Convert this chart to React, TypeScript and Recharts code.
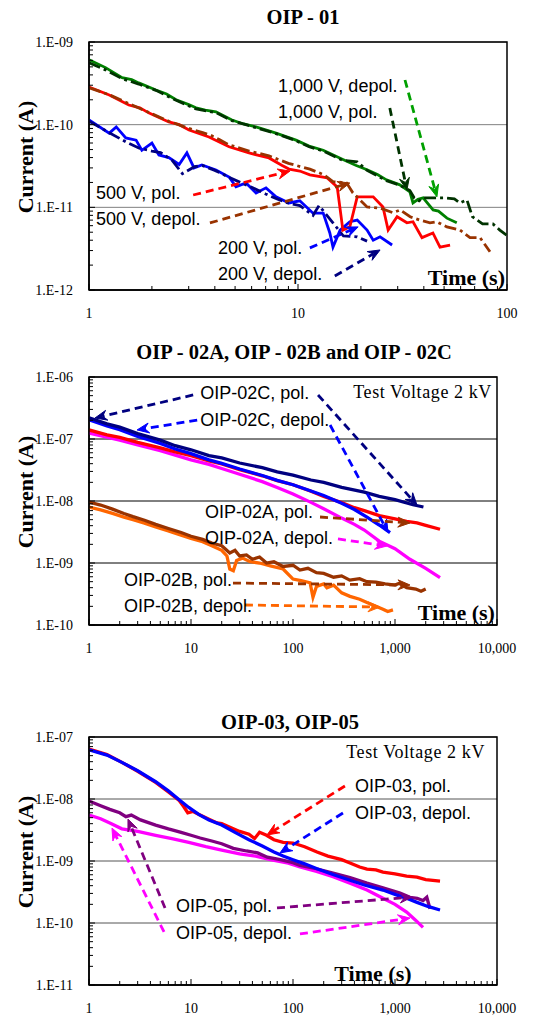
import {
    CartesianGrid,
    Line,
    LineChart,
    ReferenceArea,
    ReferenceDot,
    ReferenceLine,
    XAxis,
    YAxis
} from 'recharts'

const SERIF = '"Liberation Serif", "Times New Roman", serif'
const SANS = '"Liberation Sans", Arial, sans-serif'

const GREEN = '#008000'
const DARK_GREEN = '#003300'
const RED = '#FF0000'
const BROWN = '#993300'
const BLUE = '#0000FF'
const NAVY = '#000080'
const MAGENTA = '#FF00FF'
const ORANGE = '#FF6600'
const PURPLE = '#800080'
const DASH_DOT = '12 4 3 4'

// ---------- OIP - 01  (time s, current A) ----------
const p1XDecades = [1, 10, 100]
const p1YDecades = [1e-12, 1e-11, 1e-10, 1e-9]

const oip01V1000Depol = [
    [1, 6.1e-10], [1.2, 4.9e-10], [1.44, 3.7e-10], [1.6, 3.5e-10], [1.73, 3.2e-10], [2.09, 2.63e-10],
    [2.35, 2.35e-10], [2.61, 2.0e-10], [3.0, 1.75e-10], [3.25, 1.6e-10], [3.6, 1.5e-10], [4.05, 1.43e-10],
    [4.83, 1.14e-10], [5.5, 1.02e-10], [6.29, 9.4e-11], [7.85, 7.9e-11], [9.78, 6.5e-11], [11.3, 5.5e-11],
    [13.2, 4.9e-11], [16.4, 3.8e-11], [19, 3.2e-11], [21.4, 2.85e-11], [24, 2.5e-11], [26.5, 2.15e-11],
    [30.7, 1.87e-11], [34.3, 1.54e-11], [35.5, 1.13e-11], [37.5, 1.25e-11], [39.7, 1.3e-11], [44.3, 9.3e-12],
    [47, 9.0e-12], [51.6, 7.4e-12], [57.5, 6.5e-12]
]
const oip01V1000Pol = [
    [1, 5.6e-10], [1.2, 4.6e-10], [1.44, 3.6e-10], [1.73, 3.1e-10], [2.09, 2.6e-10], [2.61, 1.97e-10],
    [3.25, 1.55e-10], [4.05, 1.4e-10], [4.83, 1.12e-10], [6.29, 9.2e-11], [7.85, 7.8e-11], [9.78, 6.4e-11],
    [11.3, 5.4e-11], [13.2, 4.8e-11], [16.4, 3.7e-11], [19.2, 3.55e-11], [21.4, 2.8e-11], [26.5, 2.1e-11],
    [30.7, 1.85e-11], [34.3, 1.6e-11], [36, 1.3e-11], [38, 1.2e-11], [39.7, 1.3e-11], [44, 1.3e-11],
    [51, 1.3e-11], [56, 1.27e-11], [59.6, 1.13e-11], [64.3, 1.23e-11], [68.3, 7.7e-12], [76.4, 6.3e-12],
    [85.6, 6.3e-12], [92.4, 5.3e-12], [99.5, 4.6e-12]
]
const oip01V500Pol = [
    [1, 2.86e-10], [1.25, 2.29e-10], [1.55, 1.73e-10], [1.75, 1.6e-10], [1.94, 1.38e-10], [2.41, 1.08e-10],
    [2.7, 1.0e-10], [3.01, 8.6e-11], [3.75, 7.1e-11], [4.68, 5.4e-11], [5.83, 4.55e-11], [7.26, 3.96e-11],
    [8.4, 3.2e-11], [9.06, 2.9e-11], [10.2, 2.75e-11], [11.4, 2.47e-11], [13.8, 2.27e-11], [15.4, 1.77e-11],
    [16.4, 5.3e-12], [17.7, 5.8e-12], [19.2, 1.34e-11], [22.9, 1.34e-11], [25.5, 1.01e-11], [27.0, 5.3e-12],
    [29.8, 7.7e-12], [33.2, 6.5e-12], [35.5, 6.7e-12], [39.2, 4.3e-12], [44.2, 4.9e-12], [47.8, 3.3e-12],
    [53.4, 3.5e-12]
]
const oip01V500Depol = [
    [1, 2.8e-10], [1.25, 2.3e-10], [1.55, 1.8e-10], [1.94, 1.4e-10], [2.41, 1.1e-10], [3.01, 9.0e-11],
    [3.5, 8.0e-11], [3.8, 7.5e-11], [4.2, 6.6e-11], [4.68, 5.7e-11], [5.83, 4.8e-11], [7.26, 4.2e-11],
    [9.0, 3.4e-11], [11.4, 2.9e-11], [13.2, 2.5e-11], [14.7, 2.05e-11], [17.1, 1.97e-11], [18.3, 1.5e-11],
    [21.4, 1.01e-11], [24.7, 9.8e-12], [28.5, 8.6e-12], [30.8, 9.3e-12], [34.4, 7.7e-12], [38.3, 7.0e-12],
    [42.8, 6.5e-12], [46, 6.7e-12], [51.6, 5.8e-12], [59.6, 5.3e-12], [66.5, 4.3e-12], [74.3, 4.3e-12],
    [82.9, 2.9e-12]
]
const oip01V200Pol = [
    [1, 1.14e-10], [1.25, 7.9e-11], [1.35, 9.4e-11], [1.5, 6.9e-11], [1.68, 6.5e-11], [1.79, 4.9e-11],
    [2.0, 6.0e-11], [2.16, 4.3e-11], [2.41, 4.0e-11], [2.7, 3.3e-11], [2.94, 4.55e-11], [3.18, 3.0e-11],
    [3.47, 3.26e-11], [4.05, 2.83e-11], [4.68, 2.33e-11], [5.05, 1.77e-11], [5.64, 1.97e-11], [6.3, 1.49e-11],
    [7.03, 1.72e-11], [7.85, 1.34e-11], [9.06, 1.13e-11], [10.2, 1.2e-11], [11.8, 8.5e-12], [13.2, 8.5e-12],
    [14.2, 4.9e-12], [14.7, 3.3e-12], [15.9, 5.3e-12], [17.7, 6.7e-12], [19.2, 7.0e-12], [21.4, 5.3e-12],
    [22.9, 4.0e-12], [24.7, 4.4e-12], [28.2, 3.5e-12]
]
const oip01V200Depol = [
    [1, 1.1e-10], [1.25, 8.0e-11], [1.5, 6.2e-11], [1.74, 5.2e-11], [2.0, 4.8e-11], [2.2, 4.6e-11],
    [2.5, 3.7e-11], [2.8, 2.55e-11], [3.2, 3.1e-11], [3.5, 3.2e-11], [4.0, 2.8e-11], [4.7, 2.3e-11],
    [5.3, 2.0e-11], [6.0, 1.75e-11], [7.0, 1.45e-11], [8.0, 1.25e-11], [9.0, 1.12e-11], [10.2, 1.05e-11],
    [11.8, 8.0e-12], [12.6, 1.05e-11], [14.7, 6.5e-12], [16.5, 4.5e-12], [19.2, 4.4e-12], [21.4, 3.9e-12]
]

// ---------- OIP - 02A / 02B / 02C ----------
const p23XDecades = [1, 10, 100, 1000, 10000]
const p2YDecades = [1e-10, 1e-9, 1e-8, 1e-7, 1e-6]

const oip02CPol = [
    [1, 2.2e-7], [1.5, 1.75e-7], [2, 1.55e-7], [3, 1.22e-7], [5, 9.6e-8], [7, 7.8e-8], [10, 6.7e-8],
    [15, 5.4e-8], [20, 4.95e-8], [30, 4.1e-8], [50, 3.45e-8], [70, 2.95e-8], [100, 2.62e-8], [150, 2.18e-8],
    [200, 1.99e-8], [300, 1.66e-8], [500, 1.39e-8], [700, 1.19e-8], [1000, 1.05e-8], [1500, 8.7e-9],
    [1900, 8.0e-9]
]
const oip02CDepol = [
    [1, 2.05e-7], [1.5, 1.62e-7], [2, 1.41e-7], [3, 1.1e-7], [5, 8.5e-8], [7, 6.9e-8], [10, 5.8e-8],
    [15, 4.6e-8], [20, 4.05e-8], [30, 3.28e-8], [50, 2.58e-8], [70, 2.15e-8], [100, 1.83e-8], [150, 1.45e-8],
    [200, 1.23e-8], [300, 9.2e-9], [400, 7.3e-9], [531, 5.5e-9], [700, 4.1e-9], [894, 3.1e-9]
]
const oip02APol = [
    [1, 1.4e-7], [1.5, 1.17e-7], [2, 1.06e-7], [3, 8.8e-8], [5, 7.2e-8], [7, 6.2e-8], [10, 5.4e-8],
    [15, 4.45e-8], [20, 3.95e-8], [30, 3.2e-8], [50, 2.55e-8], [70, 2.13e-8], [100, 1.83e-8], [150, 1.44e-8],
    [200, 1.18e-8], [300, 9.4e-9], [400, 7.8e-9], [500, 7.0e-9], [700, 5.8e-9], [1000, 5.15e-9],
    [1300, 4.7e-9], [1643, 4.45e-9], [2000, 4.05e-9], [2763, 3.5e-9]
]
const oip02ADepol = [
    [1, 1.25e-7], [2, 9.6e-8], [3, 8.0e-8], [5, 6.5e-8], [7, 5.5e-8], [10, 4.6e-8], [15, 3.9e-8],
    [20, 3.35e-8], [30, 2.7e-8], [50, 2.05e-8], [70, 1.65e-8], [100, 1.3e-8], [150, 9.5e-9], [200, 7.5e-9],
    [300, 5.3e-9], [400, 4.2e-9], [500, 3.4e-9], [700, 2.25e-9], [1000, 1.7e-9], [1400, 1.15e-9],
    [2000, 8.2e-10], [2763, 5.8e-10]
]
const oip02BPol = [
    [1, 9.6e-9], [1.3, 8.6e-9], [1.7, 7.4e-9], [2.2, 6.3e-9], [2.7, 5.6e-9], [3.5, 4.9e-9], [4.5, 4.2e-9],
    [6, 3.6e-9], [8, 3.1e-9], [10, 2.7e-9], [13, 2.4e-9], [16, 2.1e-9], [20, 1.9e-9], [24, 1.45e-9],
    [27, 1.6e-9], [30, 1.3e-9], [35, 1.35e-9], [40, 1.15e-9], [47, 1.25e-9], [55, 1.0e-9], [65, 1.05e-9],
    [80, 8.8e-10], [100, 9.2e-10], [117, 7.7e-10], [140, 8.2e-10], [170, 7.0e-10], [200, 6.8e-10],
    [250, 5.9e-10], [300, 6.2e-10], [360, 5.3e-10], [450, 5.6e-10], [530, 5.0e-10], [650, 4.9e-10],
    [800, 4.6e-10], [1000, 4.4e-10], [1100, 4.7e-10], [1300, 4.0e-10], [1600, 3.8e-10], [1800, 3.5e-10],
    [2000, 3.8e-10]
]
const oip02BDepol = [
    [1, 8.0e-9], [1.3, 7.2e-9], [1.7, 6.3e-9], [2.2, 5.5e-9], [2.7, 5.0e-9], [3.5, 4.4e-9], [4.5, 3.8e-9],
    [6, 3.3e-9], [8, 2.8e-9], [10, 2.5e-9], [13, 2.2e-9], [16, 1.9e-9], [20, 1.6e-9], [22.5, 1.3e-9],
    [24, 8.0e-10], [26, 7.5e-10], [28, 1.1e-9], [32, 1.2e-9], [38, 1.05e-9], [47, 1.0e-9], [60, 9.0e-10],
    [80, 8.0e-10], [100, 5.5e-10], [120, 5.2e-10], [147, 4.8e-10], [157, 2.8e-10], [170, 4.2e-10],
    [200, 4.6e-10], [215, 4.0e-10], [250, 4.4e-10], [300, 3.3e-10], [362, 2.9e-10], [450, 2.6e-10],
    [531, 2.3e-10], [650, 2.0e-10], [762, 1.8e-10], [850, 1.65e-10], [955, 1.75e-10]
]

// ---------- OIP-03, OIP-05 ----------
const p3YDecades = [1e-11, 1e-10, 1e-9, 1e-8, 1e-7]

const oip03Pol = [
    [1, 6.4e-8], [1.5, 5.2e-8], [2.1, 3.9e-8], [3, 2.8e-8], [4.5, 1.85e-8], [6, 1.3e-8], [7.6, 9.6e-9],
    [8.5, 7.5e-9], [9.3, 6.0e-9], [10.5, 6.3e-9], [12, 5.6e-9], [15, 4.7e-9], [18, 4.1e-9], [20, 4.0e-9],
    [25, 3.4e-9], [30, 3.0e-9], [37, 2.7e-9], [42, 2.3e-9], [47, 2.9e-9], [55, 2.6e-9], [65, 2.2e-9],
    [80, 2.0e-9], [100, 1.95e-9], [130, 1.7e-9], [172, 1.4e-9], [220, 1.2e-9], [300, 1.05e-9], [362, 9.3e-10],
    [450, 8.0e-10], [531, 7.4e-10], [650, 7.2e-10], [762, 6.6e-10], [1000, 6.2e-10], [1300, 5.7e-10],
    [1643, 5.5e-10], [2000, 5.0e-10], [2763, 4.75e-10]
]
const oip03Depol = [
    [1, 6.2e-8], [1.5, 5.1e-8], [2.1, 3.9e-8], [3, 2.85e-8], [4.5, 1.9e-8], [6, 1.35e-8], [7.6, 9.8e-9],
    [9.5, 7.3e-9], [12, 5.6e-9], [15, 4.6e-9], [20, 3.8e-9], [27, 2.9e-9], [37, 2.2e-9], [50, 1.75e-9],
    [65, 1.4e-9], [80, 1.2e-9], [100, 1.05e-9], [130, 9.0e-10], [172, 7.5e-10], [250, 6.0e-10],
    [362, 4.9e-10], [500, 4.1e-10], [762, 3.4e-10], [1000, 2.9e-10], [1300, 2.5e-10], [1643, 2.15e-10],
    [2100, 1.85e-10], [2763, 1.62e-10]
]
const oip05Pol = [
    [1, 9.3e-9], [1.3, 7.8e-9], [1.6, 6.8e-9], [2.0, 6.0e-9], [2.3, 5.2e-9], [2.6, 5.5e-9], [3.2, 4.6e-9],
    [4.5, 3.8e-9], [6, 3.3e-9], [8, 2.9e-9], [10, 2.6e-9], [12.3, 2.35e-9], [16, 2.1e-9], [20, 1.9e-9],
    [26, 1.6e-9], [35, 1.45e-9], [45, 1.35e-9], [56, 1.15e-9], [75, 1.05e-9], [100, 9.4e-10], [117, 8.5e-10],
    [170, 7.5e-10], [247, 6.4e-10], [362, 5.4e-10], [531, 4.4e-10], [762, 3.7e-10], [1120, 3.05e-10],
    [1400, 2.6e-10], [1650, 2.5e-10], [1882, 2.3e-10], [2050, 2.6e-10], [2203, 1.7e-10]
]
const oip05Depol = [
    [1, 5.5e-9], [1.3, 4.8e-9], [1.6, 4.1e-9], [2.1, 3.3e-9], [3, 3.0e-9], [4.5, 2.6e-9], [6.5, 2.3e-9],
    [9.5, 2.0e-9], [14, 1.7e-9], [20, 1.5e-9], [30, 1.3e-9], [43, 1.2e-9], [60, 1.05e-9], [90, 9.2e-10],
    [117, 8.0e-10], [170, 6.8e-10], [247, 5.6e-10], [362, 4.4e-10], [531, 3.4e-10], [762, 2.5e-10],
    [1000, 2.0e-10], [1300, 1.5e-10], [1600, 1.1e-10], [1882, 8.5e-11]
]

type Series = { key: string; rows: number[][]; color: string; dash?: string }
type Arrow = { from: number[]; to: number[]; color: string }
type Note = { t: number; i: number; text: string; anchor?: 'start' | 'middle' | 'end'; kind?: 'sans' | 'serif' | 'axis' }

type PanelConfig = {
    top: number
    height: number
    margin: { top: number; right: number; bottom: number; left: number }
    xDecades: number[]
    yDecades: number[]
    gridColor: string
    lineWidth: number
    title: string
    titleX: number
    titleY: number
    yLabelY: number
    series: Series[]
    arrows: Arrow[]
    notes: Note[]
}

const panels: PanelConfig[] = [
    {
        top: 0,
        height: 330,
        margin: { top: 42, right: 31, bottom: 10, left: 29 },
        xDecades: p1XDecades,
        yDecades: p1YDecades,
        gridColor: '#808080',
        lineWidth: 2.8,
        title: 'OIP - 01',
        titleX: 303,
        titleY: 17,
        yLabelY: 157,
        series: [
            { key: 'v200pol', rows: oip01V200Pol, color: BLUE },
            { key: 'v200depol', rows: oip01V200Depol, color: NAVY, dash: DASH_DOT },
            { key: 'v500pol', rows: oip01V500Pol, color: RED },
            { key: 'v500depol', rows: oip01V500Depol, color: BROWN, dash: DASH_DOT },
            { key: 'v1000depol', rows: oip01V1000Depol, color: GREEN },
            { key: 'v1000pol', rows: oip01V1000Pol, color: DARK_GREEN, dash: DASH_DOT }
        ],
        arrows: [
            { from: [32.5, 3.47e-10], to: [46.2, 1.34e-11], color: '#00A000' },
            { from: [27.5, 1.59e-10], to: [33.2, 1.62e-11], color: DARK_GREEN },
            { from: [3.15, 1.41e-11], to: [9.16, 2.75e-11], color: RED },
            { from: [3.79, 6.47e-12], to: [17.7, 1.97e-11], color: BROWN },
            { from: [11.4, 3.23e-12], to: [19.4, 5.8e-12], color: BLUE },
            { from: [15.0, 1.48e-12], to: [24.7, 3.05e-12], color: NAVY }
        ],
        notes: [
            { t: 8.02, i: 2.94e-10, text: '1,000 V, depol.' },
            { t: 8.02, i: 1.43e-10, text: '1,000 V, pol.' },
            { t: 1.08, i: 1.49e-11, text: '500 V, pol.' },
            { t: 1.08, i: 7.24e-12, text: '500 V, depol.' },
            { t: 4.14, i: 3.23e-12, text: '200 V, pol.' },
            { t: 4.14, i: 1.57e-12, text: '200 V, depol.' },
            { t: 97.8, i: 1.44e-12, text: 'Time (s)', anchor: 'end', kind: 'axis' }
        ]
    },
    {
        top: 330,
        height: 340,
        margin: { top: 47, right: 41, bottom: 15, left: 29 },
        xDecades: p23XDecades,
        yDecades: p2YDecades,
        gridColor: '#000000',
        lineWidth: 3.3,
        title: 'OIP - 02A, OIP - 02B and OIP - 02C',
        titleX: 294,
        titleY: 352,
        yLabelY: 492,
        series: [
            { key: 'bdepol', rows: oip02BDepol, color: ORANGE },
            { key: 'bpol', rows: oip02BPol, color: BROWN },
            { key: 'adepol', rows: oip02ADepol, color: MAGENTA },
            { key: 'apol', rows: oip02APol, color: RED },
            { key: 'cdepol', rows: oip02CDepol, color: BLUE },
            { key: 'cpol', rows: oip02CPol, color: NAVY }
        ],
        arrows: [
            { from: [10.5, 5.13e-7], to: [1.145, 2.18e-7], color: NAVY },
            { from: [176, 5.13e-7], to: [1643, 8.61e-9], color: NAVY },
            { from: [11.5, 2.02e-7], to: [2.96, 1.4e-7], color: BLUE },
            { from: [231, 1.68e-7], to: [853, 3.16e-9], color: BLUE },
            { from: [184, 5.52e-9], to: [1403, 4.42e-9], color: BROWN },
            { from: [276, 2.44e-9], to: [835, 1.88e-9], color: MAGENTA },
            { from: [25.8, 4.75e-10], to: [1403, 4.42e-10], color: BROWN },
            { from: [33.8, 2.1e-10], to: [713, 1.95e-10], color: ORANGE }
        ],
        notes: [
            { t: 12.3, i: 5.52e-7, text: 'OIP-02C, pol.' },
            { t: 12.3, i: 2.02e-7, text: 'OIP-02C, depol.' },
            { t: 8930, i: 5.73e-7, text: 'Test Voltage 2 kV', anchor: 'end', kind: 'serif' },
            { t: 13.7, i: 6.65e-9, text: 'OIP-02A, pol.' },
            { t: 13.7, i: 2.53e-9, text: 'OIP-02A, depol.' },
            { t: 2.2, i: 5.32e-10, text: 'OIP-02B, pol.' },
            { t: 2.2, i: 2.02e-10, text: 'OIP-02B, depol.' },
            { t: 9550, i: 1.62e-10, text: 'Time (s)', anchor: 'end', kind: 'axis' }
        ]
    },
    {
        top: 680,
        height: 338,
        margin: { top: 57, right: 41, bottom: 3, left: 29 },
        xDecades: p23XDecades,
        yDecades: p3YDecades,
        gridColor: '#555555',
        lineWidth: 3.3,
        title: 'OIP-03, OIP-05',
        titleX: 290,
        titleY: 722,
        yLabelY: 852,
        series: [
            { key: 'o5depol', rows: oip05Depol, color: MAGENTA },
            { key: 'o5pol', rows: oip05Pol, color: PURPLE },
            { key: 'o3pol', rows: oip03Pol, color: RED },
            { key: 'o3depol', rows: oip03Depol, color: BLUE }
        ],
        arrows: [
            { from: [323, 1.62e-8], to: [55.6, 2.63e-9], color: RED },
            { from: [309, 5.95e-9], to: [74.6, 1.35e-9], color: BLUE },
            { from: [5.56, 1.75e-10], to: [2.41, 4.75e-9], color: PURPLE },
            { from: [69.7, 1.75e-10], to: [1468, 2.62e-10], color: PURPLE },
            { from: [5.44, 7.16e-11], to: [1.68, 3.4e-9], color: MAGENTA },
            { from: [117, 6.65e-11], to: [1403, 1.2e-10], color: MAGENTA }
        ],
        notes: [
            { t: 7630, i: 5.73e-8, text: 'Test Voltage 2 kV', anchor: 'end', kind: 'serif' },
            { t: 405, i: 1.62e-8, text: 'OIP-03, pol.' },
            { t: 405, i: 5.95e-9, text: 'OIP-03, depol.' },
            { t: 7.13, i: 1.88e-10, text: 'OIP-05, pol.' },
            { t: 7.13, i: 6.9e-11, text: 'OIP-05, depol.' },
            { t: 608, i: 1.56e-11, text: 'Time (s)', anchor: 'middle', kind: 'axis' }
        ]
    }
]

function isDecade(v: number) {
    const l = Math.log10(v)
    return Math.abs(l - Math.round(l)) < 1e-6
}

function withMinors(decades: number[]) {
    const out: number[] = []
    decades.forEach((d, k) => {
        if (k === decades.length - 1) {
            out.push(d)
            return
        }
        for (let m = 1; m <= 9; m += 1) out.push(m * d)
    })
    return out
}

function fmtY(v: number) {
    const e = Math.round(Math.log10(v))
    return `1.E${e < 0 ? '-' : '+'}${String(Math.abs(e)).padStart(2, '0')}`
}

function fmtX(v: number) {
    return Math.round(v).toLocaleString('en-US')
}

function YTick(p: any) {
    const v = p.payload.value
    const major = isDecade(v)
    return (
        <g>
            <line x1={p.x} y1={p.y} x2={p.x + (major ? 6 : 4)} y2={p.y} stroke="#000" strokeWidth={1} />
            {major ? (
                <text x={p.x - 16} y={p.y} dy="0.35em" textAnchor="end" fontFamily={SERIF} fontSize={14} fill="#000">
                    {fmtY(v)}
                </text>
            ) : null}
        </g>
    )
}

function XTick(p: any) {
    const v = p.payload.value
    const major = isDecade(v)
    return (
        <g>
            <line x1={p.x} y1={p.y} x2={p.x} y2={p.y - (major ? 6 : 4)} stroke="#000" strokeWidth={1} />
            {major ? (
                <text x={p.x} y={p.y + 23} dy="0.35em" textAnchor="middle" fontFamily={SERIF} fontSize={14} fill="#000">
                    {fmtX(v)}
                </text>
            ) : null}
        </g>
    )
}

function arrowShape(color: string) {
    return (p: any) => {
        const { x1, y1, x2, y2 } = p
        const ang = Math.atan2(y2 - y1, x2 - x1)
        const c = Math.cos(ang)
        const s = Math.sin(ang)
        const len = 12
        const half = 5
        const bx = x2 - len * c
        const by = y2 - len * s
        const nx = x2 - 0.65 * len * c
        const ny = y2 - 0.65 * len * s
        const head = `${x2},${y2} ${bx - half * s},${by + half * c} ${nx},${ny} ${bx + half * s},${by - half * c}`
        return (
            <g>
                <line x1={x1} y1={y1} x2={nx} y2={ny} stroke={color} strokeWidth={2.8} strokeDasharray="8 5" />
                <polygon points={head} fill={color} stroke={color} strokeWidth={1} />
            </g>
        )
    }
}

function noteShape(n: Note) {
    return (p: any) => {
        if (n.kind === 'axis') {
            return (
                <text x={p.cx} y={p.cy} dy="0.35em" textAnchor={n.anchor} fontFamily={SERIF} fontWeight="bold" fontSize={22} fill="#000">
                    {n.text}
                </text>
            )
        }
        if (n.kind === 'serif') {
            return (
                <text x={p.cx} y={p.cy} dy="0.35em" textAnchor={n.anchor} fontFamily={SERIF} fontSize={18} letterSpacing={0.6} fill="#000">
                    {n.text}
                </text>
            )
        }
        return (
            <text x={p.cx} y={p.cy} dy="0.35em" textAnchor={n.anchor ?? 'start'} fontFamily={SANS} fontSize={18} fill="#000">
                {n.text}
            </text>
        )
    }
}

function Panel({ cfg }: { cfg: PanelConfig }) {
    const xDomain = [cfg.xDecades[0], cfg.xDecades[cfg.xDecades.length - 1]]
    const yDomain = [cfg.yDecades[0], cfg.yDecades[cfg.yDecades.length - 1]]
    return (
        <div style={{ position: 'absolute', left: 0, top: cfg.top, width: 538, height: cfg.height }}>
            <LineChart width={538} height={cfg.height} margin={cfg.margin}>
                <CartesianGrid vertical={false} horizontalValues={cfg.yDecades} stroke={cfg.gridColor} strokeWidth={1} />
                <XAxis
                    dataKey="t"
                    type="number"
                    scale="log"
                    domain={xDomain}
                    allowDataOverflow
                    ticks={withMinors(cfg.xDecades)}
                    interval={0}
                    tick={XTick}
                    tickLine={false}
                    tickSize={0}
                    tickMargin={0}
                    height={30}
                    axisLine={{ stroke: '#000', strokeWidth: 1.5 }}
                />
                <YAxis
                    dataKey="i"
                    type="number"
                    scale="log"
                    domain={yDomain}
                    allowDataOverflow
                    ticks={withMinors(cfg.yDecades)}
                    interval={0}
                    tick={YTick}
                    tickLine={false}
                    tickSize={0}
                    tickMargin={0}
                    width={60}
                    axisLine={{ stroke: '#000', strokeWidth: 1.5 }}
                />
                <ReferenceArea
                    x1={xDomain[0]}
                    x2={xDomain[1]}
                    y1={yDomain[0]}
                    y2={yDomain[1]}
                    fill="none"
                    fillOpacity={0}
                    stroke="#000"
                    strokeWidth={1.5}
                    ifOverflow="visible"
                />
                {cfg.series.map((s) => (
                    <Line
                        key={s.key}
                        data={s.rows.map(([t, i]) => ({ t, i }))}
                        dataKey="i"
                        type="linear"
                        stroke={s.color}
                        strokeWidth={cfg.lineWidth}
                        strokeDasharray={s.dash}
                        dot={false}
                        activeDot={false}
                        isAnimationActive={false}
                    />
                ))}
                {cfg.arrows.map((a, k) => (
                    <ReferenceLine
                        key={`arrow-${k}`}
                        segment={[
                            { x: a.from[0], y: a.from[1] },
                            { x: a.to[0], y: a.to[1] }
                        ]}
                        stroke={a.color}
                        shape={arrowShape(a.color)}
                        ifOverflow="visible"
                    />
                ))}
                {cfg.notes.map((n, k) => (
                    <ReferenceDot key={`note-${k}`} x={n.t} y={n.i} r={0} shape={noteShape(n)} ifOverflow="visible" />
                ))}
            </LineChart>
            <div
                style={{
                    position: 'absolute',
                    left: cfg.titleX,
                    top: cfg.titleY - cfg.top,
                    transform: 'translate(-50%, -50%)',
                    fontFamily: SERIF,
                    fontWeight: 'bold',
                    fontSize: 20.5,
                    whiteSpace: 'nowrap'
                }}
            >
                {cfg.title}
            </div>
            <div
                style={{
                    position: 'absolute',
                    left: 26,
                    top: cfg.yLabelY - cfg.top,
                    transform: 'translate(-50%, -50%) rotate(-90deg)',
                    fontFamily: SERIF,
                    fontWeight: 'bold',
                    fontSize: 22,
                    whiteSpace: 'nowrap'
                }}
            >
                Current (A)
            </div>
        </div>
    )
}

export default function App() {
    return (
        <div style={{ position: 'absolute', left: 0, top: 0, width: 538, height: 1018, background: '#fff' }}>
            {panels.map((cfg) => (
                <Panel key={cfg.title} cfg={cfg} />
            ))}
        </div>
    )
}
